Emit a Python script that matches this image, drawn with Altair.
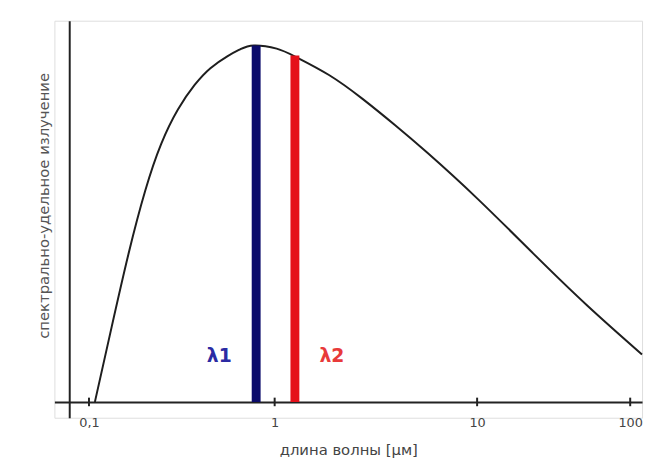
import altair as alt
import pandas as pd

# Curve (wavelength in µm, relative spectral radiance)
curve_wl = [0.1076, 0.1325, 0.1633, 0.201, 0.2446, 0.3013, 0.3707, 0.4508, 0.5556, 0.652,
            0.7727, 1.023, 1.280, 1.855, 2.717, 3.938, 5.70, 10.0, 23.3, 52.8, 119.4]
curve_val = [0.0, 0.2105, 0.4155, 0.5928, 0.723, 0.820, 0.889, 0.936, 0.9695, 0.989,
             1.0, 0.991, 0.967, 0.917, 0.850, 0.776, 0.698, 0.571, 0.416, 0.269, 0.133]

bar_names = ["λ1", "λ2"]
bar_wl = [0.795, 1.259]
bar_top = [1.0, 0.972]
bar_colors = ["#0b0b6b", "#e5101a"]
label_wl = [0.5035, 1.918]
label_val = [0.13, 0.13]
label_colors = ["#2b2ba3", "#e83a3a"]

tick_values = [0.1, 1, 10, 100]

x_domain = [0.0651, 0.1, 1, 10, 100, 119.5]
x_range = [0, 35, 223, 428, 583, 595]
y_domain = [-0.0443, 1.0693]

curve_df = pd.DataFrame({"wl": curve_wl, "val": curve_val})
bars_df = pd.DataFrame({"name": bar_names, "wl": bar_wl, "top": bar_top, "zero": [0, 0],
                        "color": bar_colors})
labels_df = pd.DataFrame({"name": bar_names, "wl": label_wl, "val": label_val,
                          "color": label_colors})
ticks_df = pd.DataFrame({"wl": tick_values, "lo": [-0.012] * 4, "hi": [0.012] * 4})

FONT = "DejaVu Sans"

xs = alt.X("wl:Q",
           scale=alt.Scale(type="log", domain=x_domain, range=x_range, nice=False),
           axis=alt.Axis(values=tick_values, title="длина волны [µм]",
                         labelExpr="datum.value < 1 ? '0,1' : toString(datum.value)",
                         grid=False, ticks=False, offset=-16, domainColor="#222",
                         domainWidth=2, labelPadding=15, labelFontSize=13,
                         labelColor="#444", titleFontSize=15, titleColor="#444",
                         titleFontWeight="normal", titlePadding=13, labelFont=FONT,
                         titleFont=FONT))
ys = alt.Y("val:Q",
           scale=alt.Scale(domain=y_domain, nice=False, zero=False),
           axis=alt.Axis(title="спектрально-удельное излучение", labels=False, ticks=False,
                         grid=False, offset=-15, domainColor="#222", domainWidth=2,
                         titleFontSize=15, titleColor="#555", titleFontWeight="normal",
                         titlePadding=18, titleY=187, titleFont=FONT))

line = alt.Chart(curve_df).mark_line(color="#1e1e1e", strokeWidth=2,
                                     interpolate="natural").encode(x=xs, y=ys)

bars = alt.Chart(bars_df).mark_rule(strokeWidth=9).encode(
    x=alt.X("wl:Q"), y=alt.Y("zero:Q"), y2="top:Q",
    color=alt.Color("color:N", scale=None))

ticks = alt.Chart(ticks_df).mark_rule(strokeWidth=2, color="#222").encode(
    x=alt.X("wl:Q"), y=alt.Y("lo:Q"), y2="hi:Q")

labels = alt.Chart(labels_df).mark_text(fontSize=19, font=FONT, fontWeight="bold").encode(
    x=alt.X("wl:Q"), y=alt.Y("val:Q"), text="name:N",
    color=alt.Color("color:N", scale=None))

chart = alt.layer(line, bars, ticks, labels).properties(
    width=595, height=402,
    autosize=alt.AutoSizeParams(type="none"),
    padding={"left": 47, "top": 10, "right": 4, "bottom": 45},
).configure_view(stroke=None).configure(background="white")

chart.save("out.html", embed_options={"renderer": "svg", "actions": False})
